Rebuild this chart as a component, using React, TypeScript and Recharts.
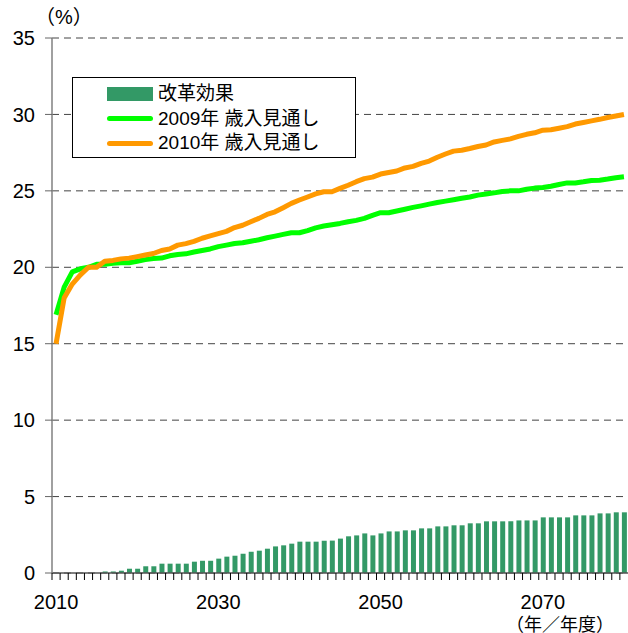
import React from "react";
import { ComposedChart, Bar, Line, XAxis, YAxis, CartesianGrid, Legend } from "recharts";

const years = [
  2010, 2011, 2012, 2013, 2014, 2015, 2016, 2017, 2018, 2019,
  2020, 2021, 2022, 2023, 2024, 2025, 2026, 2027, 2028, 2029,
  2030, 2031, 2032, 2033, 2034, 2035, 2036, 2037, 2038, 2039,
  2040, 2041, 2042, 2043, 2044, 2045, 2046, 2047, 2048, 2049,
  2050, 2051, 2052, 2053, 2054, 2055, 2056, 2057, 2058, 2059,
  2060, 2061, 2062, 2063, 2064, 2065, 2066, 2067, 2068, 2069,
  2070, 2071, 2072, 2073, 2074, 2075, 2076, 2077, 2078, 2079,
  2080,
];

// 改革効果
const reform = [
  0, 0, 0, 0, 0, 0, 0.1, 0.1, 0.15, 0.28,
  0.28, 0.44, 0.44, 0.61, 0.61, 0.61, 0.61, 0.74, 0.8, 0.8,
  0.94, 1.07, 1.13, 1.26, 1.39, 1.46, 1.59, 1.74, 1.81, 1.92,
  2.05, 2.05, 2.05, 2.11, 2.12, 2.25, 2.4, 2.46, 2.59, 2.46,
  2.59, 2.72, 2.72, 2.79, 2.79, 2.92, 2.92, 3.05, 3.05, 3.12,
  3.12, 3.25, 3.25, 3.38, 3.38, 3.38, 3.38, 3.44, 3.44, 3.44,
  3.64, 3.64, 3.64, 3.64, 3.77, 3.77, 3.77, 3.9, 3.9, 3.97,
  3.97,
];

// 2009年 歳入見通し
const outlook2009 = [
  16.9, 18.7, 19.7, 19.9, 20.0, 20.2, 20.2, 20.27, 20.3, 20.3,
  20.4, 20.5, 20.58, 20.6, 20.75, 20.84, 20.88, 21.0, 21.1, 21.2,
  21.35, 21.45, 21.56, 21.6, 21.7, 21.8, 21.93, 22.04, 22.15, 22.26,
  22.26, 22.4, 22.58, 22.7, 22.78, 22.87, 22.98, 23.07, 23.2, 23.4,
  23.57, 23.57, 23.68, 23.8, 23.92, 24.02, 24.13, 24.24, 24.33, 24.42,
  24.52, 24.6, 24.72, 24.8, 24.87, 24.96, 25.0, 25.0, 25.1, 25.18,
  25.22, 25.3, 25.42, 25.52, 25.52, 25.59, 25.68, 25.7, 25.77, 25.86,
  25.92,
];

// 2010年 歳入見通し
const outlook2010 = [
  15.0, 18.0, 18.9, 19.5, 20.0, 20.0, 20.4, 20.45, 20.55, 20.6,
  20.7, 20.8, 20.9, 21.1, 21.2, 21.45, 21.55, 21.7, 21.9, 22.05,
  22.2, 22.35, 22.6, 22.75, 22.98, 23.2, 23.46, 23.63, 23.9, 24.18,
  24.4, 24.6, 24.8, 24.94, 24.94, 25.16, 25.37, 25.6, 25.8, 25.9,
  26.1, 26.2, 26.3, 26.5, 26.6, 26.8, 26.95, 27.2, 27.41, 27.6,
  27.66, 27.77, 27.9, 28.0, 28.2, 28.3, 28.4, 28.56, 28.7, 28.8,
  28.97, 29.0, 29.1, 29.2, 29.37, 29.47, 29.58, 29.68, 29.8, 29.9,
  30.0,
];

const yTicks = [0, 5, 10, 15, 20, 25, 30, 35];
const labelledYears = [2010, 2030, 2050, 2070];

const data = years.map((year, i) => ({
  year,
  reform: reform[i],
  outlook2009: outlook2009[i],
  outlook2010: outlook2010[i],
}));

const FONT = "'Liberation Sans', Arial, 'Noto Sans CJK JP', sans-serif";
const CJK = "'Noto Sans CJK JP', 'Liberation Sans', sans-serif";
const W = 628;
const H = 633;
const LEFT = 52;
const band = (W - LEFT) / years.length;

const YearTick = (props: any) => {
  const { x, y, payload } = props;
  const left = x - band / 2;
  return (
    <g>
      <line x1={left} y1={y} x2={left} y2={y + 7} stroke="#000" strokeWidth={1} />
      {labelledYears.includes(payload.value) && (
        <text x={x} y={y + 36} textAnchor="middle" fontSize={20} fontFamily={FONT} fill="#000">
          {payload.value}
        </text>
      )}
    </g>
  );
};

const legendRows = [
  { name: "改革効果", color: "#339966", kind: "bar" },
  { name: "2009年 歳入見通し", color: "#00ff00", kind: "line" },
  { name: "2010年 歳入見通し", color: "#ff9900", kind: "line" },
];

const LegendBox = () => (
  <div
    style={{
      width: 284,
      height: 81,
      boxSizing: "border-box",
      border: "1px solid #000",
      background: "#fff",
      paddingTop: 4,
      fontFamily: FONT,
    }}
  >
    {legendRows.map((r) => (
      <div key={r.name} style={{ display: "flex", alignItems: "center", height: 24.5 }}>
        <div style={{ width: 34 }} />
        <div
          style={{
            width: 46,
            height: r.kind === "bar" ? 14 : 5,
            borderRadius: r.kind === "bar" ? 0 : 3,
            background: r.color,
          }}
        />
        <span style={{ marginLeft: 5, fontSize: 19, lineHeight: "22px", color: "#000", whiteSpace: "nowrap" }}>
          {r.name}
        </span>
      </div>
    ))}
  </div>
);

export default function App() {
  return (
    <div style={{ position: "absolute", left: 0, top: 0, width: W, height: H, background: "#fff" }}>
      <ComposedChart
        width={W}
        height={H}
        data={data}
        margin={{ top: 38, right: 0, bottom: 0, left: 0 }}
      >
        <CartesianGrid vertical={false} stroke="#444" strokeDasharray="7 5" />
        <XAxis
          dataKey="year"
          height={60}
          interval={0}
          tickLine={false}
          tickSize={0}
          tickMargin={0}
          tick={<YearTick />}
          axisLine={{ stroke: "#555", strokeWidth: 1.5 }}
        />
        <YAxis
          width={LEFT}
          domain={[0, 35]}
          ticks={yTicks}
          interval={0}
          tickSize={7}
          tickMargin={10}
          tick={{ fontSize: 20, fill: "#000", fontFamily: FONT }}
          tickLine={{ stroke: "#666" }}
          axisLine={{ stroke: "#808080", strokeWidth: 1.5 }}
        />
        <Legend
          layout="vertical"
          align="center"
          verticalAlign="middle"
          content={<LegendBox />}
          wrapperStyle={{ left: 72, top: 77, width: 284, height: 81 }}
        />
        <Bar dataKey="reform" name="改革効果" fill="#339966" barSize={5} isAnimationActive={false} />
        <Line
          type="linear"
          dataKey="outlook2009"
          name="2009年 歳入見通し"
          stroke="#00ff00"
          strokeWidth={5}
          dot={false}
          strokeLinejoin="round"
          isAnimationActive={false}
        />
        <Line
          type="linear"
          dataKey="outlook2010"
          name="2010年 歳入見通し"
          stroke="#ff9900"
          strokeWidth={5}
          dot={false}
          strokeLinejoin="round"
          isAnimationActive={false}
        />
      </ComposedChart>
      <div
        style={{
          position: "absolute",
          left: 35,
          top: 5,
          fontSize: 20,
          lineHeight: "24px",
          fontFamily: FONT,
          color: "#000",
          whiteSpace: "nowrap",
        }}
      >
        （%）
      </div>
      <div
        style={{
          position: "absolute",
          left: 506,
          top: 614,
          fontSize: 18,
          lineHeight: "18px",
          fontFamily: CJK,
          color: "#000",
          whiteSpace: "nowrap",
        }}
      >
        （年／年度）
      </div>
    </div>
  );
}
